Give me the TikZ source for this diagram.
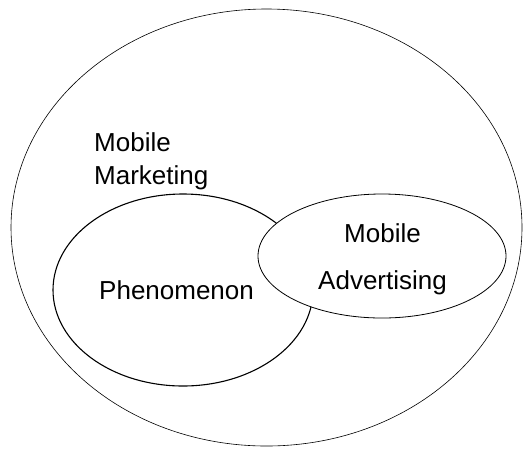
\documentclass[tikz,border=0pt]{standalone}
\usepackage{fontspec}
\setmainfont{Liberation Sans}
\usetikzlibrary{shapes.geometric}
\begin{document}
\begin{tikzpicture}[x=1pt,y=-1pt,
  lbl/.style={inner sep=0pt,anchor=base west,font=\fontsize{26}{33}\selectfont},
  ell/.style={ellipse,draw,inner sep=0pt}]
\useasboundingbox (0,0) rectangle (526,448);
\node[ell,line width=0.6pt,minimum width=511pt,minimum height=437pt] (outer) at (266.5,227.5) {};
\node[ell,line width=1.1pt,minimum width=260pt,minimum height=192pt] (phen) at (183,290) {};
\node[ell,line width=0.8pt,fill=white,minimum width=248pt,minimum height=124pt] (adv) at (382,256) {};
\node[lbl] (mm1) at (94,151.5) {Mobile};
\node[lbl] (mm2) at (94,184.5) {Marketing};
\node[lbl] (ph) at (99,299) {Phenomenon};
\node[lbl] (ma1) at (344,242) {Mobile};
\node[lbl] (ma2) at (318,289) {Advertising};
\end{tikzpicture}
\end{document}
